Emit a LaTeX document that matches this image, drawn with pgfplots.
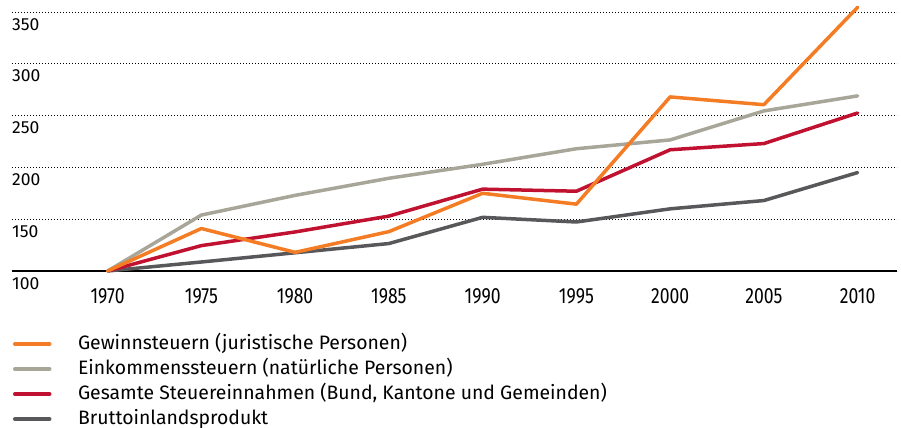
\documentclass[border=0pt]{standalone}
\usepackage{fontspec}
\setmainfont{Fira Sans}
\newfontfamily\condfont[FakeStretch=0.8]{Fira Sans}
\usepackage{pgfplots}
\pgfplotsset{compat=1.18}
\definecolor{corange}{RGB}{244,124,36}
\definecolor{cgray}{RGB}{168,166,152}
\definecolor{cred}{RGB}{192,18,48}
\definecolor{cdark}{RGB}{88,88,90}
\begin{document}
\begin{tikzpicture}
\useasboundingbox (-12bp,-157bp) rectangle (889bp,271bp);
\begin{axis}[
  at={(0,0)}, anchor=south west,
  scale only axis, width=885bp, height=269.4bp,
  xmin=1964.9, xmax=2012.1, ymin=100, ymax=360,
  axis x line*=bottom, axis y line*=left,
  x axis line style={black, line width=1.2bp},
  y axis line style={draw=none},
  major tick length=0pt,
  xtick={1970,1975,...,2010},
  ytick={100,150,...,350},
  ymajorgrids,
  grid style={black, line width=0.9bp, dash pattern=on 0.9bp off 2.1bp},
  /pgf/number format/assume math mode=true,
  /pgf/number format/1000 sep={},
  xticklabel style={anchor=north, inner sep=0pt, yshift=-17.5bp, font=\condfont\fontsize{22bp}{24bp}\selectfont},
  yticklabel style={anchor=north west, inner sep=0pt, yshift=-6bp, font=\fontsize{17.5bp}{20bp}\selectfont},
  clip=false,
  reverse legend,
  legend image code/.code={\draw[#1, line width=3.5bp] (0bp,5bp) -- (35bp,5bp);},
  legend style={at={(0,0)}, anchor=north west, xshift=1bp, yshift=-64bp,
    draw=none, fill=none, inner sep=0pt, outer sep=0pt, row sep=7bp,
    nodes={inner sep=0pt, anchor=base west, text height=14bp, text depth=4bp, font=\fontsize{19.4bp}{24bp}\selectfont},
    /tikz/every odd column/.style={column sep=26.5bp}},
  legend cell align=left,
  every axis plot/.append style={line width=3.5bp, line join=round, line cap=round},
]
\addplot[cdark] coordinates {(1970,100) (1975,108.7) (1980,117.6) (1985,126.5) (1990,151.8) (1995,147.3) (2000,160) (2005,168) (2010,195)};
\addlegendentry{Bruttoinlandsprodukt}
\addplot[cred] coordinates {(1970,100) (1975,124.5) (1980,137.7) (1985,153) (1990,179) (1995,177) (2000,217) (2005,223) (2010,252.5)};
\addlegendentry{Gesamte Steuereinnahmen (Bund, Kantone und Gemeinden)}
\addplot[cgray] coordinates {(1970,100) (1975,154) (1980,173) (1985,189.5) (1990,203) (1995,218) (2000,226.5) (2005,254.5) (2010,269)};
\addlegendentry{Einkommenssteuern (natürliche Personen)}
\addplot[corange] coordinates {(1970,100) (1975,141) (1980,118) (1985,138) (1990,175) (1995,164.5) (2000,268) (2005,260.5) (2010,354.5)};
\addlegendentry{Gewinnsteuern (juristische Personen)}
\end{axis}
\end{tikzpicture}
\end{document}
